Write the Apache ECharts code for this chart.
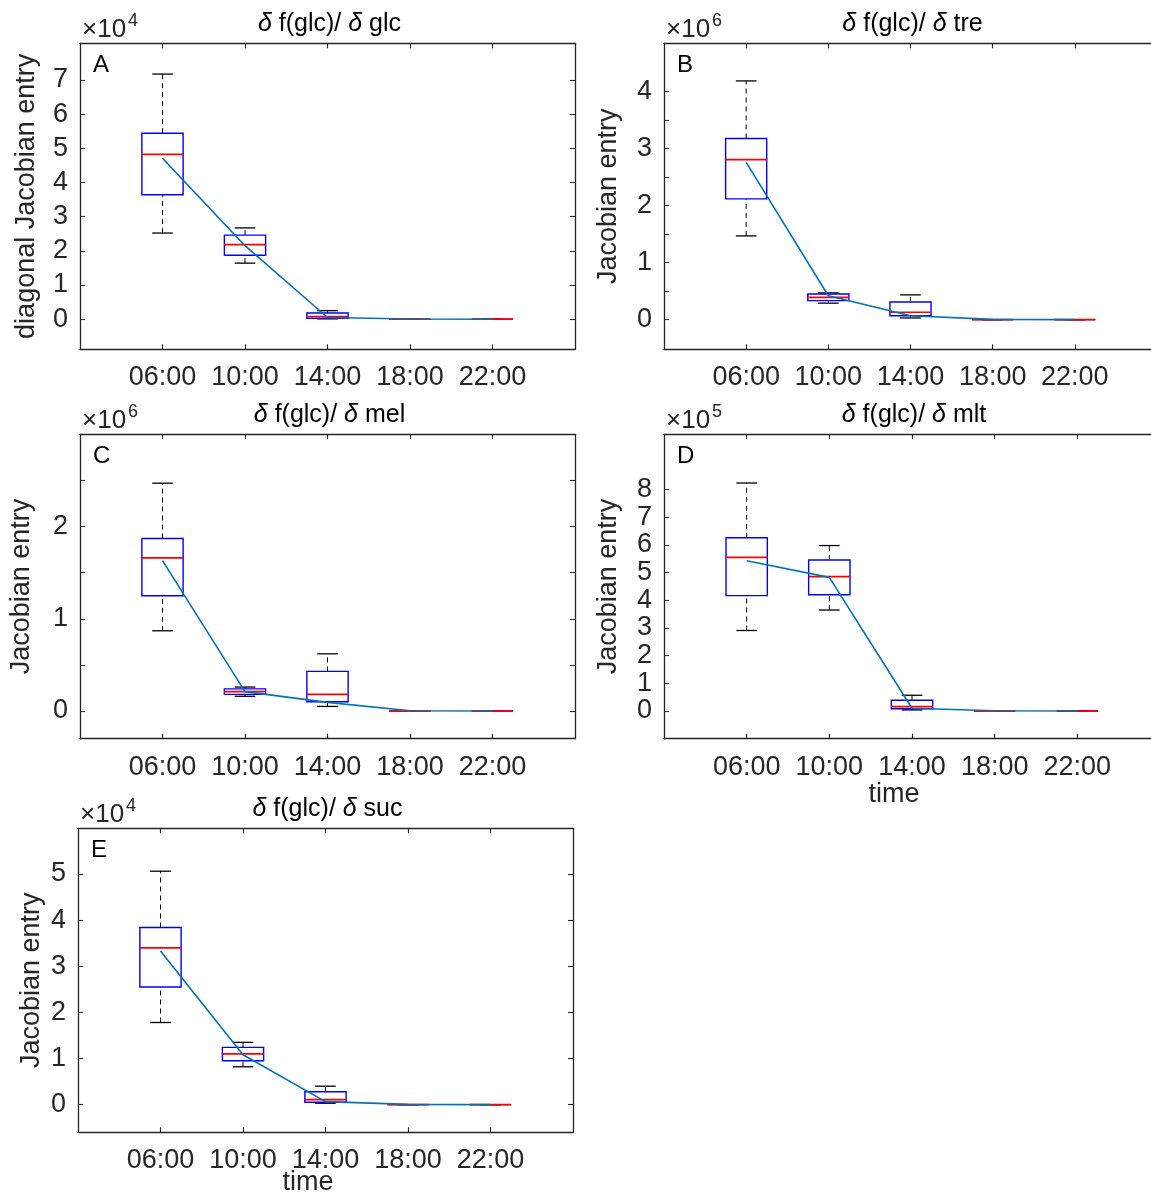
<!DOCTYPE html>
<html><head><meta charset="utf-8">
<script src="https://cdn.jsdelivr.net/npm/echarts@6/dist/echarts.min.js"></script>
<style>html,body{margin:0;padding:0;background:#fff}#c{width:1151px;height:1193px}</style>
</head><body><div id="c"></div>
<script>
// ---------- data (values in the units shown on each axis, i.e. ×10^exp) ----------
const times = ['06:00', '10:00', '14:00', '18:00', '22:00'];

// A: δ f(glc)/ δ glc  (×10^4)
const glcLow  = [2.52, 1.64, 0.01, 0, 0];
const glcQ1   = [3.64, 1.87, 0.03, 0, 0];
const glcMed  = [4.82, 2.18, 0.08, 0, 0];
const glcQ3   = [5.44, 2.46, 0.18, 0, 0];
const glcHigh = [7.17, 2.67, 0.25, 0, 0];
const glcMean = [4.71, 2.15, 0.05, 0.005, 0];

// B: δ f(glc)/ δ tre  (×10^6)
const treLow  = [1.47, 0.29, 0.03, 0, 0];
const treQ1   = [2.12, 0.335, 0.07, 0, 0];
const treMed  = [2.81, 0.39, 0.13, 0, 0];
const treQ3   = [3.18, 0.45, 0.31, 0, 0];
const treHigh = [4.19, 0.47, 0.435, 0, 0];
const treMean = [2.76, 0.42, 0.07, 0.005, 0];

// C: δ f(glc)/ δ mel  (×10^6)
const melLow  = [0.87, 0.16, 0.05, 0, 0];
const melQ1   = [1.25, 0.18, 0.10, 0, 0];
const melMed  = [1.66, 0.21, 0.18, 0, 0];
const melQ3   = [1.87, 0.24, 0.43, 0, 0];
const melHigh = [2.47, 0.26, 0.62, 0, 0];
const melMean = [1.63, 0.21, 0.094, 0.003, 0];

// D: δ f(glc)/ δ mlt  (×10^5)
const mltLow  = [2.91, 3.65, 0.04, 0, 0];
const mltQ1   = [4.17, 4.20, 0.08, 0, 0];
const mltMed  = [5.55, 4.86, 0.16, 0, 0];
const mltQ3   = [6.26, 5.46, 0.39, 0, 0];
const mltHigh = [8.24, 5.98, 0.57, 0, 0];
const mltMean = [5.43, 4.83, 0.10, 0.01, 0];

// E: δ f(glc)/ δ suc  (×10^4)
const sucLow  = [1.78, 0.82, 0.03, 0, 0];
const sucQ1   = [2.55, 0.95, 0.05, 0, 0];
const sucMed  = [3.40, 1.10, 0.11, 0, 0];
const sucQ3   = [3.84, 1.24, 0.28, 0, 0];
const sucHigh = [5.06, 1.35, 0.40, 0, 0];
const sucMean = [3.33, 1.08, 0.065, 0.005, 0];

// tick values
const glcTicks = [0, 1, 2, 3, 4, 5, 6, 7];
const glcLabels = [0, 1, 2, 3, 4, 5, 6, 7];
const treTicks = [0, 0.5, 1, 1.5, 2, 2.5, 3, 3.5, 4];
const treLabels = [0, 1, 2, 3, 4];
const melTicks = [0, 0.5, 1, 1.5, 2, 2.5];
const melLabels = [0, 1, 2];
const mltTicks = [0, 1, 2, 3, 4, 5, 6, 7, 8];
const mltLabels = [0, 1, 2, 3, 4, 5, 6, 7, 8];
const sucTicks = [0, 1, 2, 3, 4, 5];
const sucLabels = [0, 1, 2, 3, 4, 5];

// ---------- panel definitions ----------
const panels = [
  { letter: 'A', variable: 'glc', exp: '4', yName: 'diagonal Jacobian entry', xName: '',
    low: glcLow, q1: glcQ1, med: glcMed, q3: glcQ3, high: glcHigh, mean: glcMean,
    yMin: -0.88, yMax: 8.07, ticks: glcTicks, labels: glcLabels },
  { letter: 'B', variable: 'tre', exp: '6', yName: 'Jacobian entry', xName: '',
    low: treLow, q1: treQ1, med: treMed, q3: treQ3, high: treHigh, mean: treMean,
    yMin: -0.52, yMax: 4.85, ticks: treTicks, labels: treLabels },
  { letter: 'C', variable: 'mel', exp: '6', yName: 'Jacobian entry', xName: '',
    low: melLow, q1: melQ1, med: melMed, q3: melQ3, high: melHigh, mean: melMean,
    yMin: -0.30, yMax: 3.0, ticks: melTicks, labels: melLabels },
  { letter: 'D', variable: 'mlt', exp: '5', yName: 'Jacobian entry', xName: 'time',
    low: mltLow, q1: mltQ1, med: mltMed, q3: mltQ3, high: mltHigh, mean: mltMean,
    yMin: -1.0, yMax: 10.0, ticks: mltTicks, labels: mltLabels },
  { letter: 'E', variable: 'suc', exp: '4', yName: 'Jacobian entry', xName: 'time',
    low: sucLow, q1: sucQ1, med: sucMed, q3: sucQ3, high: sucHigh, mean: sucMean,
    yMin: -0.60, yMax: 5.99, ticks: sucTicks, labels: sucLabels }
];

// layout (pixels): plot box edges and y-name gap
const layouts = [
  { l: 80,  t: 43.3,  r: 575,  b: 349.3, nameGap: 40, xNameX: 0,   xNameY: 0 },
  { l: 664, t: 43.3,  r: 1157, b: 349.3, nameGap: 42, xNameX: 0,   xNameY: 0 },
  { l: 80,  t: 434.3, r: 575,  b: 738.7, nameGap: 45, xNameX: 0,   xNameY: 0 },
  { l: 664, t: 434.3, r: 1160, b: 738.7, nameGap: 42, xNameX: 894, xNameY: 795 },
  { l: 78,  t: 828.3, r: 573,  b: 1132.3, nameGap: 33, xNameX: 308, xNameY: 1183 }
];

const FONT = '"Liberation Sans", Arial, Helvetica, sans-serif';
const AXC = '#262626';

function boxRenderer(params, api) {
  const x = api.value(0);
  const lo = api.value(1), q1 = api.value(2), md = api.value(3), q3 = api.value(4), hi = api.value(5);
  const c = (xx, yy) => api.coord([xx, yy]);
  const half = 0.25, cap = 0.125;
  const ln = (p1, p2, style) => ({ type: 'line', shape: { x1: p1[0], y1: p1[1], x2: p2[0], y2: p2[1] }, style: style });
  const whisk = { stroke: '#000', lineWidth: 1, lineDash: [5, 4] };
  const capS = { stroke: '#000', lineWidth: 1.3 };
  const tl = c(x - half, q3), br = c(x + half, q1);
  return { type: 'group', children: [
    ln(c(x, q3), c(x, hi), whisk),
    ln(c(x, lo), c(x, q1), whisk),
    ln(c(x - cap, hi), c(x + cap, hi), capS),
    ln(c(x - cap, lo), c(x + cap, lo), capS),
    { type: 'rect', shape: { x: tl[0], y: tl[1], width: br[0] - tl[0], height: br[1] - tl[1] },
      style: { fill: 'none', stroke: '#0000FF', lineWidth: 1.4 } },
    ln(c(x - half, md), c(x + half, md), { stroke: '#FF0000', lineWidth: 1.7 })
  ]};
}

const grid = [], xAxis = [], yAxis = [], series = [], graphic = [];
const xPos = times.map((t, i) => i + 1);

panels.forEach((p, k) => {
  const L = layouts[k];
  grid.push({ left: L.l, top: L.t, width: L.r - L.l, height: L.b - L.t, outerBoundsMode: 'none', containLabel: false });
  const axLine = { show: true, onZero: false, lineStyle: { color: AXC, width: 1.3 } };
  const tickSt = { show: true, inside: true, length: 5, lineStyle: { color: AXC, width: 1.1 } };
  xAxis.push({ type: 'value', gridIndex: k, position: 'bottom', min: 0, max: 6,
    axisLine: axLine, splitLine: { show: false },
    axisTick: Object.assign({ customValues: xPos }, tickSt),
    axisLabel: { customValues: xPos, formatter: v => times[Math.round(v) - 1], fontSize: 27,
      fontFamily: FONT, color: AXC, margin: 15 } });
  xAxis.push({ type: 'value', gridIndex: k, position: 'top', min: 0, max: 6,
    axisLine: axLine, splitLine: { show: false },
    axisTick: Object.assign({ customValues: xPos }, tickSt),
    axisLabel: { show: false } });
  yAxis.push({ type: 'value', gridIndex: k, position: 'left', min: p.yMin, max: p.yMax,
    name: p.yName, nameLocation: 'middle', nameGap: L.nameGap, nameRotate: 90,
    nameTextStyle: { fontSize: 27, fontFamily: FONT, color: AXC },
    axisLine: axLine, splitLine: { show: false },
    axisTick: Object.assign({ customValues: p.ticks }, tickSt),
    axisLabel: { customValues: p.labels, formatter: v => String(v), fontSize: 27,
      fontFamily: FONT, color: AXC, margin: 12 } });
  yAxis.push({ type: 'value', gridIndex: k, position: 'right', min: p.yMin, max: p.yMax,
    axisLine: axLine, splitLine: { show: false },
    axisTick: Object.assign({ customValues: p.ticks }, tickSt),
    axisLabel: { show: false } });

  const boxData = times.map((t, i) => [i + 1, p.low[i], p.q1[i], p.med[i], p.q3[i], p.high[i]]);
  series.push({ type: 'custom', xAxisIndex: 2 * k, yAxisIndex: 2 * k, renderItem: boxRenderer,
    data: boxData, encode: { x: 0, y: [1, 2, 3, 4, 5] }, z: 2, silent: true });
  series.push({ type: 'line', xAxisIndex: 2 * k, yAxisIndex: 2 * k,
    data: times.map((t, i) => [i + 1, p.mean[i]]), symbol: 'none',
    lineStyle: { color: '#0072BD', width: 1.6 }, z: 3, silent: true });

  const cx = (L.l + L.r) / 2 + 2;
  graphic.push({ type: 'text', x: cx, y: L.t - 19,
    style: { text: '{d|δ} f(glc)/ {d|δ} ' + p.variable, fontSize: 25, fontFamily: FONT, fill: '#000',
      align: 'center', verticalAlign: 'middle',
      rich: { d: { fontStyle: 'italic', fontSize: 25, fontFamily: FONT, fill: '#000' } } } });
  graphic.push({ type: 'text', x: L.l + 2, y: L.t,
    style: { text: '×10', fontSize: 26, fontFamily: FONT, fill: AXC, align: 'left', verticalAlign: 'bottom' } });
  graphic.push({ type: 'text', x: L.l + 48, y: L.t - 31,
    style: { text: p.exp, fontSize: 18, fontFamily: FONT, fill: AXC, align: 'left', verticalAlign: 'top' } });
  graphic.push({ type: 'text', x: L.l + 13, y: L.t + 22,
    style: { text: p.letter, fontSize: 24, fontFamily: FONT, fill: '#000', align: 'left', verticalAlign: 'middle' } });
  if (p.xName) {
    graphic.push({ type: 'text', x: L.xNameX, y: L.xNameY,
      style: { text: p.xName, fontSize: 27, fontFamily: FONT, fill: AXC, align: 'center', verticalAlign: 'middle' } });
  }
});

const chart = echarts.init(document.getElementById('c'), null, { renderer: 'canvas' });
chart.setOption({ backgroundColor: '#fff', animation: false, grid, xAxis, yAxis, series, graphic });
</script>
</body></html>
